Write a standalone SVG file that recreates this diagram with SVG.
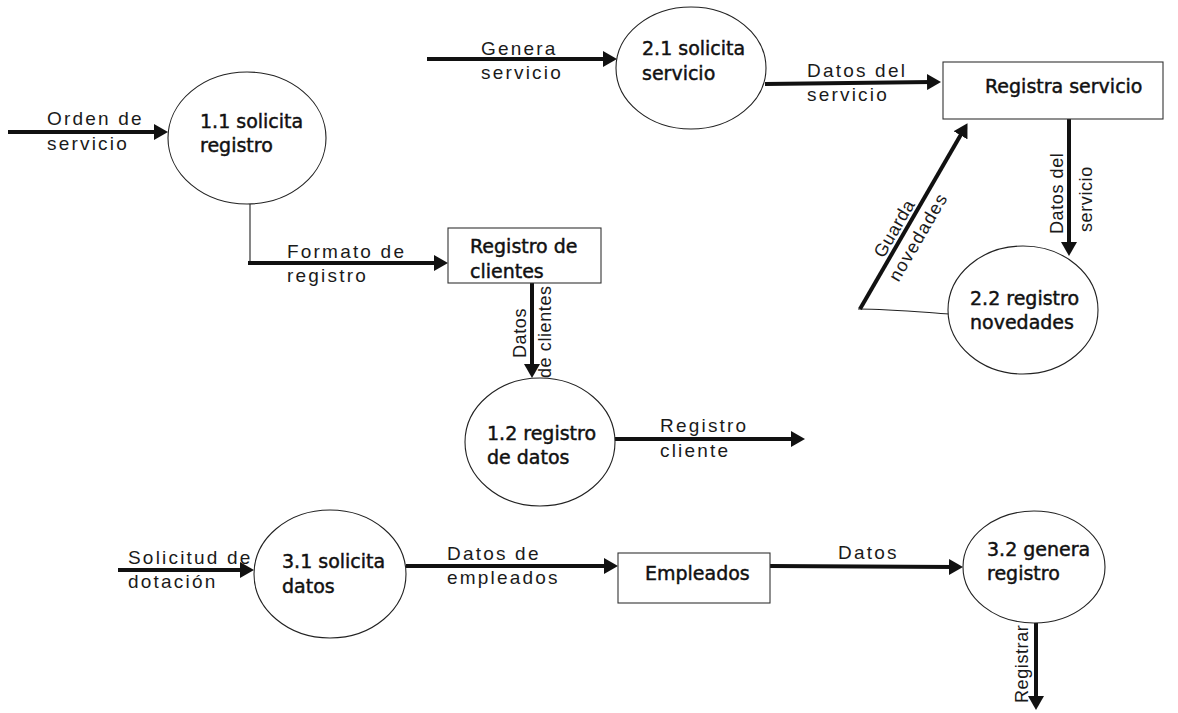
<svg xmlns="http://www.w3.org/2000/svg" width="1178" height="713" viewBox="0 0 1178 713">
<style>
.proc{fill:#fff;stroke:#222;stroke-width:1.1}
.store{fill:#fff;stroke:#333;stroke-width:1.1}
.nt{font-family:"DejaVu Sans","Liberation Sans",sans-serif;font-size:19px;fill:#111;stroke:#111;stroke-width:0.45}
.lt{font-family:"Liberation Sans",Arial,sans-serif;font-size:19px;fill:#1a1a1a;letter-spacing:2.2px}
.rt{font-family:"Liberation Sans",Arial,sans-serif;font-size:18px;fill:#1a1a1a;letter-spacing:0.6px}
.flow{stroke:#111;stroke-width:4;fill:none;marker-end:url(#ah)}
.thin{stroke:#222;stroke-width:1.1;fill:none}
</style>
<defs>
<marker id="ah" markerUnits="userSpaceOnUse" markerWidth="14" markerHeight="16" refX="5" refY="8" orient="auto">
<path d="M0,0 L14,8 L0,16 z" fill="#111"/>
</marker>
</defs>
<rect width="1178" height="713" fill="#fff"/>

<g id="connectors">
<line class="flow" x1="8" y1="132" x2="159" y2="132"/>
<line class="thin" x1="250" y1="204" x2="250" y2="264"/>
<line class="flow" x1="248" y1="263" x2="439" y2="263"/>
<line class="flow" x1="532" y1="283" x2="532" y2="369"/>
<line class="flow" x1="615" y1="439" x2="796" y2="439"/>
<line class="flow" x1="427" y1="59" x2="608" y2="59"/>
<line class="flow" x1="765" y1="84" x2="932" y2="82"/>
<line class="flow" x1="1069" y1="119" x2="1069" y2="247"/>
<path class="thin" d="M949,314 C920,312 890,309 858,309"/>
<line class="flow" x1="860" y1="309" x2="963" y2="131"/>
<line class="flow" x1="118" y1="570" x2="245" y2="570"/>
<line class="flow" x1="406" y1="566" x2="609" y2="566"/>
<line class="flow" x1="770" y1="566" x2="954" y2="567"/>
<line class="flow" x1="1036" y1="623" x2="1036" y2="701"/>

<text class="lt" x="47" y="125">Orden de</text>
<text class="lt" x="47" y="150">servicio</text>
<text class="lt" x="287" y="258">Formato de</text>
<text class="lt" x="287" y="282">registro</text>
<text class="rt" transform="translate(526,358) rotate(-90)">Datos</text>
<text class="rt" transform="translate(551,378) rotate(-90)">de clientes</text>
<text class="lt" x="660" y="432">Registro</text>
<text class="lt" x="660" y="457">cliente</text>
<text class="lt" x="481" y="55">Genera</text>
<text class="lt" x="481" y="79">servicio</text>
<text class="lt" x="807" y="77">Datos del</text>
<text class="lt" x="807" y="101">servicio</text>
<text class="rt" transform="translate(1063,234) rotate(-90)">Datos del</text>
<text class="rt" transform="translate(1092,232) rotate(-90)">servicio</text>
<g transform="translate(860,309) rotate(-59.7)">
<text class="rt" x="55" y="-5">Guarda</text>
<text class="rt" x="42" y="20" style="letter-spacing:1.2px">novedades</text>
</g>
<text class="lt" x="128" y="564">Solicitud de</text>
<text class="lt" x="128" y="588">dotación</text>
<text class="lt" x="447" y="560">Datos de</text>
<text class="lt" x="447" y="584">empleados</text>
<text class="lt" x="838" y="559">Datos</text>
<text class="rt" transform="translate(1028,703) rotate(-90)">Registrar</text>
</g>

<g id="p11">
<ellipse class="proc" cx="247" cy="138" rx="79" ry="66"/>
<text class="nt" x="200" y="128">1.1 solicita</text>
<text class="nt" x="200" y="152">registro</text>
</g>
<g id="s_clientes">
<rect class="store" x="448" y="228" width="153" height="55"/>
<text class="nt" x="470" y="253">Registro de</text>
<text class="nt" x="470" y="278">clientes</text>
</g>
<g id="p12">
<ellipse class="proc" cx="540" cy="442" rx="75" ry="64"/>
<text class="nt" x="487" y="440">1.2 registro</text>
<text class="nt" x="487" y="464">de datos</text>
</g>
<g id="p21">
<ellipse class="proc" cx="691" cy="68" rx="75" ry="61"/>
<text class="nt" x="642" y="55">2.1 solicita</text>
<text class="nt" x="642" y="80">servicio</text>
</g>
<g id="s_servicio">
<rect class="store" x="943" y="62" width="220" height="57"/>
<text class="nt" x="985" y="93">Registra servicio</text>
</g>
<g id="p22">
<ellipse class="proc" cx="1023" cy="310" rx="75" ry="64"/>
<text class="nt" x="970" y="305">2.2 registro</text>
<text class="nt" x="970" y="329">novedades</text>
</g>
<g id="p31">
<ellipse class="proc" cx="330" cy="574" rx="76" ry="64"/>
<text class="nt" x="282" y="568">3.1 solicita</text>
<text class="nt" x="282" y="593">datos</text>
</g>
<g id="s_empleados">
<rect class="store" x="618" y="553" width="152" height="50"/>
<text class="nt" x="645" y="580">Empleados</text>
</g>
<g id="p32">
<ellipse class="proc" cx="1034" cy="567" rx="71" ry="56"/>
<text class="nt" x="987" y="556">3.2 genera</text>
<text class="nt" x="987" y="580">registro</text>
</g>
</svg>
